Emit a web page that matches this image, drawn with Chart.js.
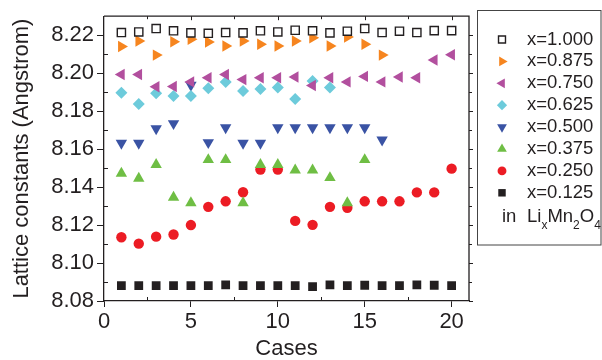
<!DOCTYPE html>
<html>
<head>
<meta charset="utf-8">
<script src="https://cdn.jsdelivr.net/npm/chart.js@4.4.1/dist/chart.umd.min.js"></script>
<style>
  html, body { margin: 0; padding: 0; background: #fff; }
</style>
</head>
<body>
<canvas id="chart" width="602" height="360"></canvas>
<script>
// case numbers along the x axis
const cases = [1, 2, 3, 4, 5, 6, 7, 8, 9, 10, 11, 12, 13, 14, 15, 16, 17, 18, 19, 20];

// lattice constants per Li content
const x1000 = [8.2214, 8.2217, 8.2235, 8.2223, 8.2212, 8.2210, 8.2214, 8.2212, 8.2223, 8.2217,
               8.2226, 8.2223, 8.2212, 8.2221, 8.2235, 8.2214, 8.2221, 8.2214, 8.2224, 8.2224];
const x0875 = [8.2140, 8.2169, 8.2095, 8.2165, 8.2178, 8.2164, 8.2143, 8.2169, 8.2152, 8.2143,
               8.2169, 8.2186, 8.2143, 8.2190, 8.2152, 8.2095];
const x0750 = [8.1993, 8.1993, 8.1928, 8.1930, 8.1954, 8.1976, 8.1993, 8.1966, 8.1976, 8.1976,
               8.1980, 8.1935, 8.1976, 8.1954, 8.1983, 8.1954, 8.1980, 8.1976, 8.2069, 8.2097];
const x0625 = [8.1897, 8.1837, 8.1894, 8.1880, 8.1880, 8.1920, 8.1954, 8.1906, 8.1917, 8.1925,
               8.1864, 8.1959, 8.1925];
const x0500 = [8.1632, 8.1632, 8.1708, 8.1735, 8.1937, 8.1635, 8.1713, 8.1632, 8.1632, 8.1713,
               8.1713, 8.1713, 8.1713, 8.1713, 8.1713, 8.1649];
const x0375 = [8.1472, 8.1446, 8.1518, 8.1346, 8.1317, 8.1544, 8.1544, 8.1317, 8.1518, 8.1518,
               8.1489, 8.1489, 8.1449, 8.1317, 8.1544];
const x0250 = [8.1136, 8.1102, 8.1139, 8.1150, 8.1200, 8.1296, 8.1325, 8.1373, 8.1492, 8.1492,
               8.1222, 8.1201, 8.1296, 8.1291, 8.1325, 8.1325, 8.1325, 8.1372, 8.1372, 8.1497];
const x0125 = [8.0881, 8.0881, 8.0881, 8.0881, 8.0881, 8.0881, 8.0885, 8.0881, 8.0881, 8.0881,
               8.0881, 8.0876, 8.0885, 8.0881, 8.0883, 8.0881, 8.0881, 8.0885, 8.0883, 8.0881];

const seriesLabels = ["x=1.000", "x=0.875", "x=0.750", "x=0.625", "x=0.500", "x=0.375", "x=0.250", "x=0.125"];
const xTicks = [0, 5, 10, 15, 20];
const yTicks = [8.08, 8.10, 8.12, 8.14, 8.16, 8.18, 8.20, 8.22];

const ink = "#231f20";
const font = "'Liberation Sans', Arial, Helvetica, sans-serif";

// marker look for each series (same order as seriesLabels)
const markers = [
  { style: "rect", rot: 0, r: 5.8, fill: "#ffffff", stroke: ink, bw: 1.4 },
  { style: "triangle", rot: 90, r: 6.6, fill: "#f6851f", stroke: "#f6851f", bw: 0 },
  { style: "triangle", rot: 270, r: 6.6, fill: "#b24f9e", stroke: "#b24f9e", bw: 0 },
  { style: "rectRot", rot: 0, r: 6, fill: "#6dcbdb", stroke: "#6dcbdb", bw: 0 },
  { style: "triangle", rot: 180, r: 6.6, fill: "#3a53a4", stroke: "#3a53a4", bw: 0 },
  { style: "triangle", rot: 0, r: 6.6, fill: "#6fbe44", stroke: "#6fbe44", bw: 0 },
  { style: "circle", rot: 0, r: 5.2, fill: "#ec1c24", stroke: "#ec1c24", bw: 0 },
  { style: "rect", rot: 0, r: 6.2, fill: ink, stroke: ink, bw: 0 }
];

const allSeries = [x1000, x0875, x0750, x0625, x0500, x0375, x0250, x0125];

const datasets = allSeries.map((vals, i) => ({
  label: seriesLabels[i],
  data: vals.map((v, k) => ({ x: cases[k], y: v })),
  pointStyle: markers[i].style,
  pointRotation: markers[i].rot,
  pointRadius: markers[i].r,
  pointHoverRadius: markers[i].r,
  backgroundColor: markers[i].fill,
  borderColor: markers[i].stroke,
  borderWidth: markers[i].bw,
  showLine: false
}));

// small marker painter for the hand drawn legend
function drawMarker(ctx, m, x, y, r) {
  ctx.save();
  ctx.translate(x, y);
  ctx.rotate(m.rot * Math.PI / 180);
  ctx.beginPath();
  if (m.style === "rect") {
    const h = r * Math.SQRT1_2;
    ctx.rect(-h, -h, 2 * h, 2 * h);
  } else if (m.style === "rectRot") {
    ctx.moveTo(0, -r); ctx.lineTo(r, 0); ctx.lineTo(0, r); ctx.lineTo(-r, 0); ctx.closePath();
  } else if (m.style === "triangle") {
    for (let k = 0; k < 3; k++) {
      const a = k * 2 * Math.PI / 3;
      const px = Math.sin(a) * r, py = -Math.cos(a) * r;
      if (k === 0) ctx.moveTo(px, py); else ctx.lineTo(px, py);
    }
    ctx.closePath();
  } else {
    ctx.arc(0, 0, r, 0, Math.PI * 2);
  }
  ctx.fillStyle = m.fill;
  ctx.fill();
  if (m.bw > 0) { ctx.lineWidth = m.bw; ctx.strokeStyle = m.stroke; ctx.stroke(); }
  ctx.restore();
}

// top/right frame, minor ticks and mirrored ticks
const framePlugin = {
  id: "frame",
  afterDatasetsDraw(chart) {
    const { ctx, chartArea: a, scales: { x, y } } = chart;
    ctx.save();
    ctx.strokeStyle = ink;
    ctx.lineWidth = 1.3;
    ctx.beginPath();
    ctx.moveTo(a.left, a.top);
    ctx.lineTo(a.right, a.top);
    ctx.lineTo(a.right, a.bottom);
    ctx.stroke();

    ctx.lineWidth = 1;
    ctx.beginPath();
    for (let i = 0; i < yTicks.length; i++) {
      const py = Math.round(y.getPixelForValue(yTicks[i])) + 0.5;
      ctx.moveTo(a.right, py); ctx.lineTo(a.right + 4, py);
      if (i < yTicks.length - 1) {
        const pm = Math.round(y.getPixelForValue((yTicks[i] + yTicks[i + 1]) / 2)) + 0.5;
        ctx.moveTo(a.left, pm); ctx.lineTo(a.left + 4, pm);
        ctx.moveTo(a.right, pm); ctx.lineTo(a.right + 3, pm);
      }
    }
    for (let i = 0; i < xTicks.length; i++) {
      const px = Math.round(x.getPixelForValue(xTicks[i])) + 0.5;
      if (i > 0) { ctx.moveTo(px, a.top); ctx.lineTo(px, a.top + 4); }
      if (i < xTicks.length - 1) {
        const pm = Math.round(x.getPixelForValue((xTicks[i] + xTicks[i + 1]) / 2)) + 0.5;
        ctx.moveTo(pm, a.bottom); ctx.lineTo(pm, a.bottom - 4);
        ctx.moveTo(pm, a.top); ctx.lineTo(pm, a.top + 3);
      }
    }
    ctx.stroke();
    ctx.restore();
  }
};

// boxed legend on the right
const legendPlugin = {
  id: "boxLegend",
  afterDraw(chart) {
    const ctx = chart.ctx;
    ctx.save();
    ctx.strokeStyle = "#444";
    ctx.lineWidth = 1;
    ctx.strokeRect(477.5, 10.5, 123.5, 234.5);

    ctx.fillStyle = ink;
    ctx.textBaseline = "middle";
    ctx.font = "18.5px " + font;
    seriesLabels.forEach((lab, i) => {
      const cy = 39.5 + i * 21.9;
      const m = markers[i];
      drawMarker(ctx, m, 502, cy, m.style === "rect" ? m.r * 0.85 : m.r * 0.85);
      ctx.fillStyle = ink;
      ctx.fillText(lab, 527, cy);
    });

    // "in LixMn2O4" with subscripts
    ctx.textBaseline = "alphabetic";
    const base = 222, subBase = 229;
    const big = "18.5px " + font, small = "12px " + font;
    ctx.font = big;
    ctx.fillText("in", 502, base);
    let cx = 527;
    const parts = [["Li", big, base], ["x", small, subBase], ["Mn", big, base],
                   ["2", small, subBase], ["O", big, base], ["4", small, subBase]];
    parts.forEach(([t, f, b]) => {
      ctx.font = f;
      ctx.fillText(t, cx, b);
      cx += ctx.measureText(t).width;
    });
    ctx.restore();
  }
};

new Chart(document.getElementById("chart"), {
  type: "scatter",
  data: { datasets },
  options: {
    responsive: false,
    devicePixelRatio: 1,
    animation: false,
    layout: { padding: { left: 0, top: 11, right: 133, bottom: 0 } },
    plugins: {
      legend: { display: false },
      tooltip: { enabled: false }
    },
    scales: {
      x: {
        type: "linear",
        position: "bottom",
        min: 0,
        max: 21,
        afterBuildTicks: (s) => { s.ticks = xTicks.map((v) => ({ value: v })); },
        afterFit: (s) => { s.height = 59; },
        ticks: {
          color: ink,
          font: { family: font, size: 22 },
          padding: 2,
          maxRotation: 0,
          callback: (v) => String(v)
        },
        grid: { drawOnChartArea: false, drawTicks: true, tickLength: 6, color: ink, lineWidth: 1 },
        border: { display: true, color: ink, width: 1.3 },
        title: {
          display: true,
          text: "Cases",
          color: ink,
          font: { family: font, size: 22, lineHeight: 1 },
          padding: { top: 0, bottom: 0 }
        }
      },
      y: {
        type: "linear",
        position: "left",
        min: 8.08,
        max: 8.23,
        afterBuildTicks: (s) => { s.ticks = yTicks.map((v) => ({ value: v })); },
        afterFit: (s) => { s.width = 104; },
        ticks: {
          color: ink,
          font: { family: font, size: 22 },
          padding: 3,
          callback: (v) => Number(v).toFixed(2)
        },
        grid: { drawOnChartArea: false, drawTicks: true, tickLength: 7, color: ink, lineWidth: 1 },
        border: { display: true, color: ink, width: 1.3 },
        title: {
          display: true,
          text: "Lattice constants (Angstrom)",
          color: ink,
          font: { family: font, size: 22, lineHeight: 1 },
          padding: { top: 11, bottom: 0 }
        }
      }
    }
  },
  plugins: [framePlugin, legendPlugin]
});
</script>
</body>
</html>
